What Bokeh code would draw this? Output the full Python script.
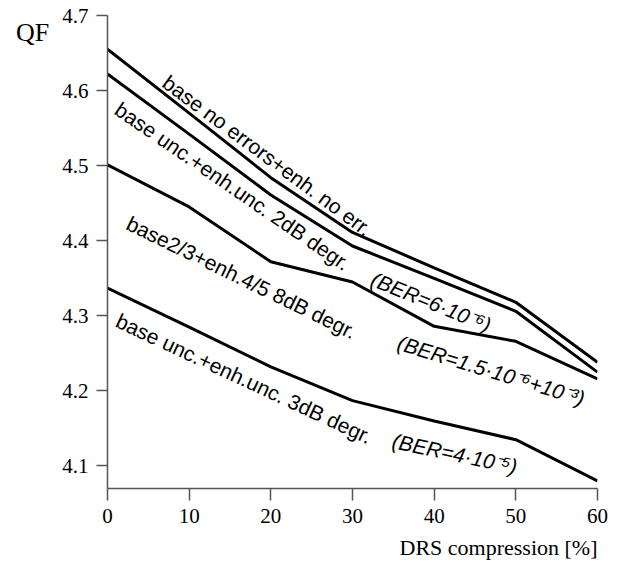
from bokeh.plotting import figure
from bokeh.models import FixedTicker, Title
from bokeh.core.properties import value
from bokeh.embed import file_html
from bokeh.resources import INLINE

# ---- data ----
drs = [0, 10, 20, 30, 40, 50, 60]
qf_no_err = [4.655, 4.570, 4.484, 4.411, 4.364, 4.318, 4.238]
qf_unc_2db = [4.622, 4.542, 4.461, 4.393, 4.350, 4.306, 4.225]
qf_23_8db = [4.501, 4.445, 4.372, 4.345, 4.286, 4.266, 4.216]
qf_unc_3db = [4.337, 4.285, 4.232, 4.187, 4.160, 4.135, 4.080]

x_ticks = [0, 10, 20, 30, 40, 50, 60]
y_ticks = [4.1, 4.2, 4.3, 4.4, 4.5, 4.6, 4.7]
y_tick_labels = ["4.1", "4.2", "4.3", "4.4", "4.5", "4.6", "4.7"]

x_title = "DRS compression [%]"
y_title = "QF"

label_texts = [
    "base no errors+enh. no err.",
    "base unc.+enh.unc. 2dB degr.",
    "(BER=6\u00b710\u207b\u2076)",
    "base2/3+enh.4/5 8dB degr.",
    "(BER=1.5\u00b710\u207b\u2076+10\u207b\u00b3)",
    "base unc.+enh.unc. 3dB degr.",
    "(BER=4\u00b710\u207b\u2075)",
]
label_x = [7.07, 1.2, 32.4, 2.5, 35.6, 1.2, 34.9]
label_y = [4.614, 4.578, 4.350, 4.425, 4.265, 4.295, 4.134]
label_angle = [-36.5, -34.5, -22, -26, -17, -25, -12]
label_style = ["normal", "normal", "italic", "normal", "italic", "normal", "italic"]

p = figure(width=610, height=566, x_range=(0, 60), y_range=(4.07, 4.7),
           output_backend="svg", toolbar_location=None,
           min_border_left=107, min_border_right=13, min_border_top=15, min_border_bottom=76)
p.xgrid.visible = False
p.ygrid.visible = False
p.outline_line_color = None
p.background_fill_color = "white"
p.border_fill_color = "white"

for ax in (p.xaxis[0], p.yaxis[0]):
    ax.axis_line_color = "#555555"
    ax.axis_line_width = 1.5
    ax.major_tick_line_color = "#555555"
    ax.major_tick_line_width = 1.5
    ax.major_tick_in = 0
    ax.minor_tick_line_color = None
    ax.major_label_text_font = "Liberation Serif"
    ax.major_label_text_font_size = "21px"
    ax.major_label_text_color = "black"
    ax.axis_label_text_font = "Liberation Serif"
    ax.axis_label_text_font_style = "normal"
    ax.axis_label_text_color = "black"

p.xaxis.ticker = FixedTicker(ticks=x_ticks)
p.yaxis.ticker = FixedTicker(ticks=y_ticks)
p.yaxis.major_label_overrides = {t: s for t, s in zip(y_ticks, y_tick_labels)}
p.xaxis.major_tick_out = 12
p.yaxis.major_tick_out = 11
p.xaxis.major_label_standoff = 8
p.yaxis.major_label_standoff = 8

p.yaxis.axis_label = "\n" + y_title
p.yaxis.axis_label_text_font_size = "26px"
p.yaxis.axis_label_orientation = "horizontal"
p.yaxis.axis_label_align = "end"
p.yaxis.axis_label_standoff = 10

p.add_layout(Title(text=x_title, align="right", text_font="Liberation Serif",
                   text_font_size="22px", text_font_style="normal",
                   text_color="black", standoff=14), "below")

for ys in (qf_no_err, qf_unc_2db, qf_23_8db, qf_unc_3db):
    p.line(drs, ys, line_color="black", line_width=3)

for t, x, y, a, s in zip(label_texts, label_x, label_y, label_angle, label_style):
    p.text(x=[x], y=[y], text=[t], angle=a, angle_units="deg",
           text_font=value("Liberation Sans"), text_font_size="21px",
           text_font_style=s, text_align="left", text_baseline="alphabetic",
           text_color="black")

open("out.html", "w").write(file_html(p, INLINE))
